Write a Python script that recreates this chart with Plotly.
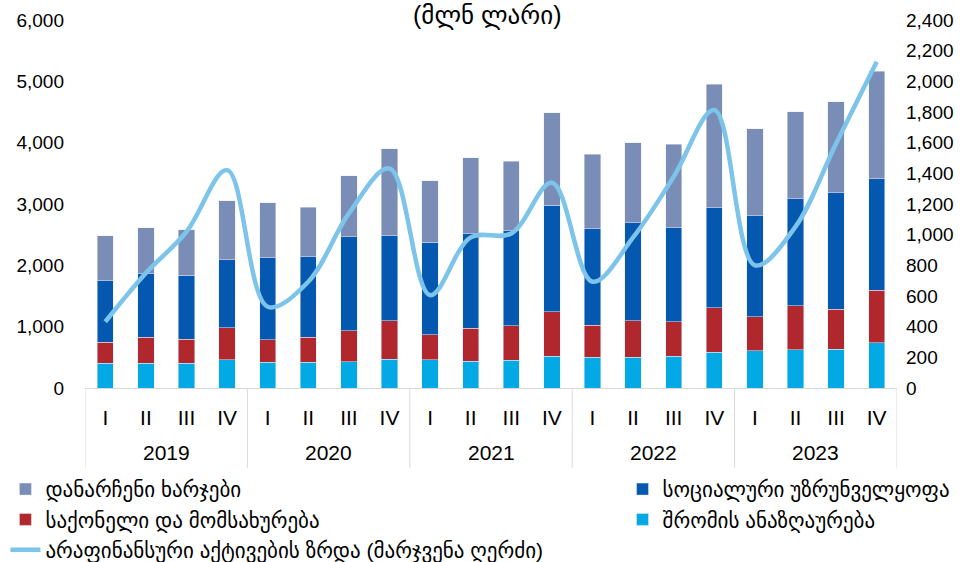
import plotly.graph_objects as go

years = ["2019"] * 4 + ["2020"] * 4 + ["2021"] * 4 + ["2022"] * 4 + ["2023"] * 4
quarters = ["I", "II", "III", "IV"] * 5

compensation = [403, 403, 403, 462, 419, 419, 429, 468, 462, 440, 452, 517, 501, 501, 517, 587, 604, 620, 631, 739]
goods_services = [342, 424, 391, 522, 364, 408, 501, 625, 403, 534, 564, 723, 522, 597, 565, 723, 554, 723, 652, 854]
social_security = [1000, 1033, 1044, 1109, 1343, 1310, 1538, 1387, 1512, 1543, 1550, 1740, 1571, 1594, 1533, 1631, 1648, 1740, 1903, 1816]
other_expenses = [739, 755, 744, 958, 897, 810, 990, 1419, 1000, 1240, 1132, 1511, 1218, 1305, 1360, 2013, 1424, 1419, 1485, 1757]
nonfin_assets = [432, 750, 1019, 1421, 530, 693, 1139, 1432, 606, 982, 1008, 1339, 693, 982, 1378, 1813, 800, 1052, 1595, 2128]

names = {
    "other": "დანარჩენი ხარჯები",
    "social": "სოციალური უზრუნველყოფა",
    "goods": "საქონელი და მომსახურება",
    "comp": "შრომის ანაზღაურება",
    "line": "არაფინანსური აქტივების ზრდა (მარჯვენა ღერძი)",
}

FONT = "Liberation Sans, Arial, DejaVu Sans, sans-serif"
x = [f"{y} {q}" for y, q in zip(years, quarters)]

fig = go.Figure()
fig.add_trace(go.Bar(x=x, y=compensation, name=names["comp"], marker_color="#03A9E4",
                     legend="legend2", legendrank=2, legendgroup="comp"))
fig.add_trace(go.Bar(x=x, y=goods_services, name=names["goods"], marker_color="#B0282E",
                     legend="legend", legendrank=2, legendgroup="goods"))
fig.add_trace(go.Bar(x=x, y=social_security, name=names["social"], marker_color="#0558B0",
                     legend="legend2", legendrank=1, legendgroup="social"))
fig.add_trace(go.Bar(x=x, y=other_expenses, name=names["other"], marker_color="#7A8DB6",
                     legend="legend", legendrank=1, legendgroup="other"))
fig.add_trace(go.Scatter(x=x, y=nonfin_assets, name=names["line"], mode="lines", yaxis="y2",
                         line=dict(color="#7DC4EA", width=4.5, shape="spline", smoothing=1.0),
                         legend="legend", legendrank=3, legendgroup="line"))

# year group labels and dividers, placed through the category axis
unique_years = list(dict.fromkeys(years))
annotations = []
shapes = []
for yr in unique_years:
    idx = [i for i, v in enumerate(years) if v == yr]
    annotations.append(dict(text=yr, xref="x", yref="paper", x=sum(idx) / len(idx), y=-0.1766,
                            xanchor="center", yanchor="middle", showarrow=False,
                            font=dict(size=21)))
    shapes.append(dict(type="line", xref="x", yref="paper", x0=idx[0] - 0.5, x1=idx[0] - 0.5,
                       y0=0, y1=-0.217, line=dict(color="#d9d9d9", width=1)))
shapes.append(dict(type="line", xref="x", yref="paper", x0=len(years) - 0.5, x1=len(years) - 0.5,
                   y0=0, y1=-0.217, line=dict(color="#d9d9d9", width=1)))

annotations.append(dict(text="(მლნ ლარი)", xref="paper", yref="paper", x=0.495, y=1.011,
                        xanchor="center", yanchor="middle", showarrow=False,
                        font=dict(size=25)))

leg_common = dict(orientation="v", yanchor="top", xanchor="left", font=dict(size=21),
                  itemwidth=30, tracegroupgap=0, traceorder="grouped", bgcolor="rgba(0,0,0,0)")

fig.update_layout(
    width=971, height=562,
    margin=dict(l=85, r=74, t=20, b=174, autoexpand=False),
    barmode="stack", bargap=0.6,
    plot_bgcolor="white", paper_bgcolor="white",
    font=dict(family=FONT, size=19, color="#000000"),
    xaxis=dict(type="category", tickmode="array", tickvals=x, ticktext=quarters,
               showline=True, linecolor="#d9d9d9", linewidth=1,
               tickfont=dict(size=21), showgrid=False, ticklabelstandoff=11,
               range=[-0.5, len(x) - 0.5]),
    yaxis=dict(range=[0, 6000], dtick=1000, tickformat=",", showgrid=False, zeroline=False,
               ticklabelstandoff=20),
    yaxis2=dict(range=[0, 2400], dtick=200, tickformat=",", overlaying="y", side="right",
                showgrid=False, zeroline=False, ticklabelstandoff=8),
    legend=dict(x=-0.098, y=-0.22, **leg_common),
    legend2=dict(x=0.662, y=-0.22, **leg_common),
    showlegend=True,
    annotations=annotations,
    shapes=shapes,
)

fig.write_html("out.html", config={"displayModeBar": False},
               post_script="document.body.style.margin='0';")
